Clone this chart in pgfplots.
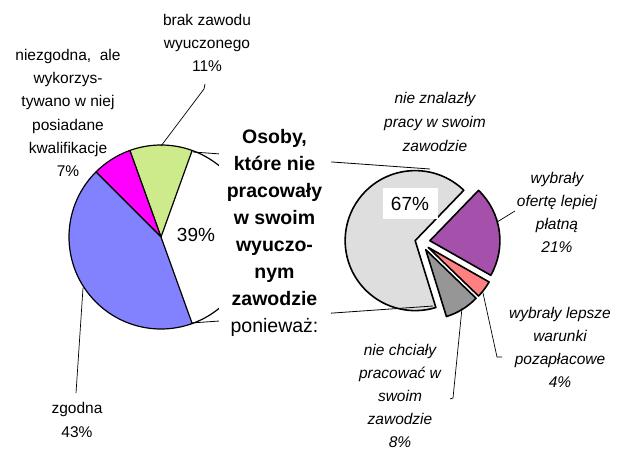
\documentclass[border=0pt]{standalone}
\usepackage{pgfplots}
\pgfplotsset{compat=1.18}
\usepackage{pgfplotstable}
\usepackage{fontspec}
\setmainfont{Liberation Sans}

\definecolor{cGreen}{RGB}{206,235,140}
\definecolor{cMag}{RGB}{255,0,255}
\definecolor{cBlue}{RGB}{130,130,255}
\definecolor{cLight}{RGB}{222,222,222}
\definecolor{cPurple}{RGB}{165,80,170}
\definecolor{cSalmon}{RGB}{255,128,128}
\definecolor{cGray}{RGB}{150,150,150}

% left pie, counter-clockwise from the right-hand (hidden) slice
\pgfplotstableread{
slice value
inne 39
brak 11
niezgodna 7
zgodna 43
}\leftpie
% right pie, counter-clockwise from the top-right
\pgfplotstableread{
slice value
nieznalazly 67
niechcialy 8
warunki 4
oferta 21
}\rightpie

\newcommand\getval[3]{\pgfplotstablegetelem{#2}{value}\of#1\xdef#3{\pgfplotsretval}}
\getval\leftpie{0}\Lva
\getval\leftpie{1}\Lvb
\getval\leftpie{2}\Lvc
\getval\leftpie{3}\Lvd
\getval\rightpie{0}\Rva
\getval\rightpie{1}\Rvb
\getval\rightpie{2}\Rvc
\getval\rightpie{3}\Rvd
\pgfmathsetmacro\Laa{-1.8*\Lva}
\pgfmathsetmacro\Lab{\Laa+3.6*\Lva}
\pgfmathsetmacro\Lac{\Lab+3.6*\Lvb}
\pgfmathsetmacro\Lad{\Lac+3.6*\Lvc}
\pgfmathsetmacro\Lae{\Lad+3.6*\Lvd}
\pgfmathsetmacro\Raa{46}
\pgfmathsetmacro\Rab{\Raa+3.6*\Rva}
\pgfmathsetmacro\Rac{\Rab+3.6*\Rvb}
\pgfmathsetmacro\Rad{\Rac+3.6*\Rvc}
\pgfmathsetmacro\Rae{\Rad+3.6*\Rvd}

% cx, cy, r, start, end, explode, style
\newcommand\slice[7]{\filldraw[#7] (axis cs:#1,#2) ++({(#4+#5)/2}:#6bp) -- ++(#4:#3bp) arc[start angle=#4, end angle=#5, radius=#3bp] -- cycle;}

\begin{document}
\begin{tikzpicture}
\begin{axis}[scale only axis, width=618bp, height=450bp,
  xmin=0, xmax=618, ymin=0, ymax=450, y dir=reverse,
  hide axis, clip=false, enlargelimits=false]
\path (axis cs:0,0) rectangle (axis cs:618,450);
% left pie
\slice{161}{237}{92}{\Lab}{\Lac}{0}{fill=cGreen, draw=black, line width=1.2bp, line join=round}
\slice{161}{237}{92}{\Lac}{\Lad}{0}{fill=cMag, draw=black, line width=1.2bp, line join=round}
\slice{161}{237}{92}{\Lad}{\Lae}{0}{fill=cBlue, draw=black, line width=1.2bp, line join=round}
\draw[line width=1.2bp] (axis cs:161,237) ++(\Laa:92bp) arc[start angle=\Laa, end angle=\Lab, radius=92bp];
% right pie
\slice{421}{242}{70}{\Raa}{\Rab}{6}{fill=cLight, draw=black, line width=1.6bp, line join=round}
\slice{421}{242}{70}{\Rab}{\Rac}{9}{fill=cGray, draw=black, line width=1.6bp, line join=round}
\slice{421}{242}{70}{\Rac}{\Rad}{9}{fill=cSalmon, draw=black, line width=1.6bp, line join=round}
\slice{421}{242}{70}{\Rad}{\Rae}{9}{fill=cPurple, draw=black, line width=1.6bp, line join=round}
% connectors
\draw[line width=0.8bp] (axis cs:193,152) -- (axis cs:430,169);
\draw[line width=0.8bp] (axis cs:191,323) -- (axis cs:433,306);
\fill[white] (axis cs:219,126) rectangle (axis cs:331,342);
% leader lines
\draw[line width=0.7bp] (axis cs:205,84) -- (axis cs:204,89) -- (axis cs:161,146);
\draw[line width=0.7bp] (axis cs:76,393) -- (axis cs:83,288);
\draw[line width=0.7bp] (axis cs:497,222) -- (axis cs:515,211);
\draw[line width=0.7bp] (axis cs:483,293) -- (axis cs:497,357) -- (axis cs:502,357);
\draw[line width=0.7bp] (axis cs:462,308) -- (axis cs:453,398) -- (axis cs:450,399);
% labels
\node[align=center, font=\fontsize{15.5bp}{23.3bp}\selectfont] at (axis cs:207,43) {brak zawodu\\wyuczonego\\11\%};
\node[align=center, font=\fontsize{15.5bp}{23.3bp}\selectfont] at (axis cs:68,113) {niezgodna,\ \ ale\\wykorzys-\\tywano w niej\\posiadane\\kwalifikacje\\7\%};
\node[align=center, font=\fontsize{15.5bp}{23.3bp}\selectfont] at (axis cs:77,420) {zgodna\\43\%};
\node[font=\fontsize{19bp}{23bp}\selectfont] at (axis cs:196,235) {39\%};
\node[align=center, font=\fontsize{19.5bp}{27bp}\selectfont\bfseries] at (axis cs:274.5,233) {Osoby,\\które nie\\pracowały\\w swoim\\wyuczo-\\nym\\zawodzie\\\mdseries ponieważ:};
\fill[white] (axis cs:383,188) rectangle (axis cs:438,219);
\node[font=\fontsize{19bp}{23bp}\selectfont] at (axis cs:410,204) {67\%};
\node[align=center, font=\fontsize{15.5bp}{24bp}\selectfont\itshape] at (axis cs:435,122) {nie znalazły\\pracy w swoim\\zawodzie};
\node[align=center, font=\fontsize{15.5bp}{23bp}\selectfont\itshape] at (axis cs:557,212) {wybrały\\ofertę lepiej\\płatną\\21\%};
\node[align=center, font=\fontsize{15.5bp}{23bp}\selectfont\itshape] at (axis cs:560,347) {wybrały lepsze\\warunki\\pozapłacowe\\4\%};
\node[align=center, font=\fontsize{15.5bp}{23bp}\selectfont\itshape] at (axis cs:400,396) {nie chciały\\pracować w\\swoim\\zawodzie\\8\%};
\end{axis}
\end{tikzpicture}
\end{document}
